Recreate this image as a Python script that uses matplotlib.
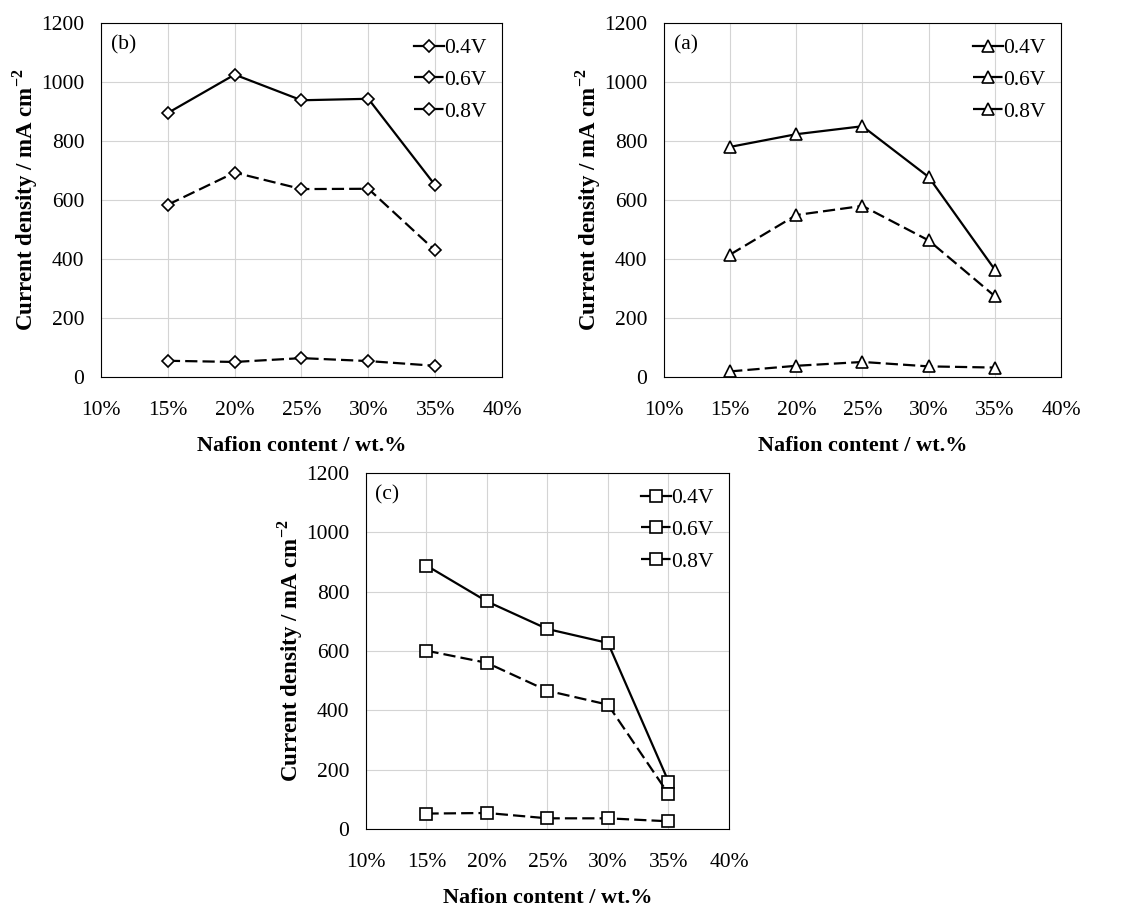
import numpy as np
import matplotlib
matplotlib.use("Agg")
import matplotlib.pyplot as plt
from matplotlib.ticker import FuncFormatter

plt.rcParams['font.family'] = ['Liberation Serif', 'DejaVu Serif']
plt.rcParams['mathtext.fontset'] = 'custom'
plt.rcParams['mathtext.rm'] = 'Liberation Serif'
plt.rcParams['mathtext.bf'] = 'Liberation Serif:bold'

# Nafion content (fraction)
nafion = [0.15, 0.20, 0.25, 0.30, 0.35]
voltages = ['0.4V', '0.6V', '0.8V']

# panel (b) - diamonds
b_04 = [895, 1025, 938, 943, 650]
b_06 = [584, 693, 637, 638, 429]
b_08 = [55, 51, 64, 54, 38]

# panel (a) - triangles
a_04 = [780, 823, 850, 678, 364]
a_06 = [415, 549, 580, 463, 274]
a_08 = [19, 38, 51, 36, 32]

# panel (c) - squares
c_04 = [888, 767, 674, 627, 160]
c_06 = [601, 560, 466, 419, 118]
c_08 = [52, 54, 36, 36, 26]

xticks = [0.10, 0.15, 0.20, 0.25, 0.30, 0.35, 0.40]
yticks = [0, 200, 400, 600, 800, 1000, 1200]

fig = plt.figure(figsize=(11.25, 9.08), dpi=100)

dash = (0, (5.5, 2.3))
styles = ['-', dash, dash]

def panel(rect, tag, marker, ms, series):
    ax = fig.add_axes(rect)
    for vals, ls, lab in zip(series, styles, voltages):
        ax.plot(nafion, vals, color='black', lw=1.6, linestyle=ls,
                marker=marker, ms=ms, mfc='white', mec='black', mew=1.2,
                label=lab)
    ax.set_xlim(0.10, 0.40)
    ax.set_ylim(0, 1200)
    ax.set_xticks(xticks)
    ax.set_yticks(yticks)
    ax.xaxis.set_major_formatter(FuncFormatter(lambda v, p: f"{v*100:.0f}%"))
    ax.grid(True, color='#d4d4d4', lw=0.8)
    ax.set_axisbelow(True)
    ax.tick_params(axis='both', length=0, labelsize=15.5)
    ax.tick_params(axis='x', pad=17)
    ax.tick_params(axis='y', pad=12)
    for s in ax.spines.values():
        s.set_linewidth(0.8)
        s.set_color('black')
    ax.set_xlabel('Nafion content / wt.%', fontsize=16, fontweight='bold', labelpad=12)
    ax.set_ylabel(r'Current density / mA cm$^{\mathregular{-2}}$', fontsize=16.5,
                  fontweight='bold', labelpad=1)
    ax.text(0.025, 0.965, tag, transform=ax.transAxes, fontsize=15.5,
            va='top', ha='left')
    ax.legend(loc='upper right', frameon=False, fontsize=15.5, handlelength=1.4,
              handletextpad=0.0, labelspacing=0.55, borderaxespad=0.3)
    return ax

panel([0.0898, 0.5848, 0.3564, 0.3899], '(b)', 'D', 6, [b_04, b_06, b_08])
panel([0.5902, 0.5848, 0.3529, 0.3899], '(a)', '^', 8, [a_04, a_06, a_08])
panel([0.3253, 0.0870, 0.3227, 0.3921], '(c)', 's', 8, [c_04, c_06, c_08])

fig.savefig('out.png', dpi=100)
